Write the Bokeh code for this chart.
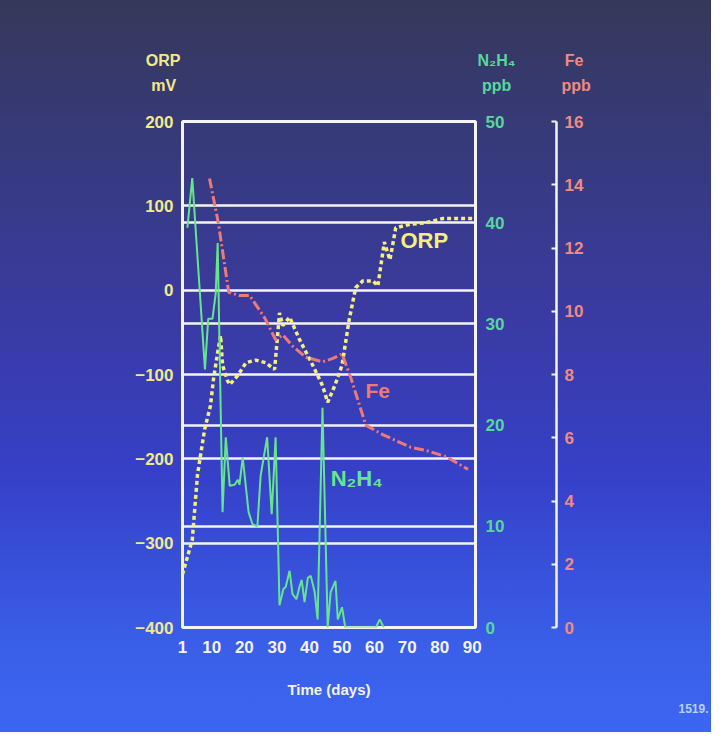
from bokeh.plotting import figure
from bokeh.layouts import column
from bokeh.models import Range1d, LinearAxis, FixedTicker, Grid, Label, Title
from bokeh.embed import file_html
from bokeh.resources import INLINE

# ---------------- data ----------------
orp_days = [1, 4, 5.6, 7.8, 9.6, 10.5, 11.8, 12.7, 13.3, 14.8, 15.5, 18, 20.5, 23.5,
            26.5, 29.3, 30.8, 31.8, 33.9, 37, 41, 44, 45.6, 47.8, 50, 52.2, 54.2,
            56.4, 59.5, 61, 63, 64.7, 65.3, 66.5, 70.8, 75.8, 81, 91]
orp_mv = [-337, -296, -219, -165, -137, -106, -74, -54, -89, -107, -112, -101, -86, -83,
          -86, -94, -27, -42, -32, -59, -89, -113, -133, -113, -89, -35, 3,
          11, 11, 5, 57, 36, 48, 74, 78, 80, 85, 85]

fe_days = [9.3, 12, 15.2, 18.5, 21.6, 26.2, 29.6, 31.8, 34.8, 38.8, 44, 47, 50,
           52.7, 57.3, 62.5, 71, 75.8, 82, 88.7]
fe_ppb = [14.2, 12.8, 10.6, 10.5, 10.5, 9.8, 9.1, 9.25, 8.9, 8.55, 8.4, 8.5, 8.65,
          7.9, 6.4, 6.1, 5.7, 5.6, 5.4, 5.0]

n2h4_days = [2.5, 4, 7.9, 8.9, 10.2, 11.2, 11.8, 13.3, 14.3, 15.5, 17, 18, 18.5, 19.5,
             21.3, 22.5, 24, 25, 27, 28.4, 29.6, 30.8, 32, 32.7, 33.9, 34.8, 36, 37,
             37.6, 38.5, 39.5, 40.4, 41.6, 42.5, 44, 45.6, 46.5, 48, 48.7, 50, 51,
             60.4, 61.6, 62.8]
n2h4_ppb = [39.5, 44.4, 25.5, 30.5, 30.5, 33, 38, 11.4, 18.8, 14, 14.1, 14.6, 14.1, 16.8,
            11.4, 10.2, 10, 15, 18.8, 11.2, 18.8, 2.2, 3.8, 4, 5.6, 3.3, 2.8, 4.1,
            4.7, 2.5, 4.9, 5.1, 3.5, 0.8, 21.7, 0, 3.5, 4.6, 0.8, 2, 0,
            0, 0.8, 0]

x_ticks = [1, 10, 20, 30, 40, 50, 60, 70, 80, 90]
orp_ticks = [-400, -300, -200, -100, 0, 100, 200]
n2h4_ticks = [0, 10, 20, 30, 40, 50]
fe_ticks = [0, 2, 4, 6, 8, 10, 12, 14, 16]

# axis titles (non-breaking / thin spaces only centre the short lines)
orp_title = "ORP\nmV\u00a0"
n2h4_title = "N\u2082H\u2084\n\u00a0ppb"
fe_title = "\u2009Fe\nppb"
x_title = "Time (days)"

# ---------------- styling ----------------
FONT = "'Liberation Sans', Arial, sans-serif"
YELLOW = "#f2e98a"
YELLOW_LINE = "#f5ef7e"
GREEN = "#56d89c"
GREEN_LINE = "#66e68c"
SALMON = "#f08a82"
SALMON_LINE = "#ee7a76"
WHITE = "#f4f4f4"
TICK_SIZE = "17px"


def title_axis(fig, text, color, standoff, side):
    ax = LinearAxis(ticker=FixedTicker(ticks=[]), axis_label=text,
                    axis_label_orientation="horizontal")
    ax.axis_line_color = None
    ax.major_tick_line_color = None
    ax.minor_tick_line_color = None
    ax.major_tick_in = 0
    ax.major_tick_out = 0
    ax.major_label_standoff = 0
    ax.axis_label_standoff = standoff
    ax.axis_label_text_color = color
    ax.axis_label_text_font = FONT
    ax.axis_label_text_font_style = "bold"
    ax.axis_label_text_font_size = "16px"
    ax.axis_label_text_line_height = 1.45
    fig.add_layout(ax, side)


# ---------------- header strip (axis titles) ----------------
head = figure(width=711, height=101, output_backend="svg", toolbar_location=None,
              x_range=Range1d(0, 1), y_range=Range1d(0, 1),
              x_axis_location=None, y_axis_location=None,
              min_border_left=182, min_border_right=236, min_border_top=44,
              min_border_bottom=0)
head.border_fill_color = None
head.background_fill_color = None
head.outline_line_color = None
head.grid.grid_line_color = None
title_axis(head, orp_title, YELLOW, 2, "left")
title_axis(head, n2h4_title, GREEN, 2, "right")
title_axis(head, fe_title, SALMON, 43, "right")

# ---------------- main chart ----------------
p = figure(width=711, height=631, output_backend="svg", toolbar_location=None,
           x_range=Range1d(1, 91), y_range=Range1d(-400, 200),
           min_border_left=182, min_border_right=236,
           min_border_top=20, min_border_bottom=105)
p.border_fill_color = None
p.background_fill_color = None
p.outline_line_color = WHITE
p.outline_line_width = 3

p.extra_y_ranges = {"n2h4": Range1d(0, 50), "fe": Range1d(0, 16)}

# x axis
xa = p.xaxis[0]
xa.ticker = FixedTicker(ticks=x_ticks)
xa.axis_line_color = None
xa.major_tick_line_color = None
xa.minor_tick_line_color = None
xa.major_label_text_color = WHITE
xa.major_label_text_font = FONT
xa.major_label_text_font_style = "bold"
xa.major_label_text_font_size = TICK_SIZE
xa.major_label_standoff = 7
xa.axis_label = x_title
xa.axis_label_text_color = WHITE
xa.axis_label_text_font = FONT
xa.axis_label_text_font_style = "bold"
xa.axis_label_text_font_size = "15px"
xa.axis_label_standoff = 25

# left ORP axis
ya = p.yaxis[0]
ya.ticker = FixedTicker(ticks=orp_ticks)
ya.axis_line_color = None
ya.major_tick_line_color = None
ya.minor_tick_line_color = None
ya.major_label_text_color = YELLOW
ya.major_label_text_font = FONT
ya.major_label_text_font_style = "bold"
ya.major_label_text_font_size = TICK_SIZE
ya.major_label_standoff = 3

# N2H4 axis
na = LinearAxis(y_range_name="n2h4", ticker=FixedTicker(ticks=n2h4_ticks))
na.axis_line_color = None
na.major_tick_line_color = None
na.minor_tick_line_color = None
na.major_label_text_color = GREEN
na.major_label_text_font = FONT
na.major_label_text_font_style = "bold"
na.major_label_text_font_size = TICK_SIZE
na.major_label_standoff = 4
na.axis_label = " "
na.axis_label_text_font_size = "10px"
na.axis_label_standoff = 35
p.add_layout(na, "right")

# Fe axis
fa = LinearAxis(y_range_name="fe", ticker=FixedTicker(ticks=fe_ticks))
fa.axis_line_color = WHITE
fa.axis_line_width = 2.5
fa.major_tick_line_color = WHITE
fa.major_tick_line_width = 2
fa.major_tick_in = 5
fa.major_tick_out = 0
fa.minor_tick_line_color = None
fa.major_label_text_color = SALMON
fa.major_label_text_font = FONT
fa.major_label_text_font_style = "bold"
fa.major_label_text_font_size = TICK_SIZE
fa.major_label_standoff = 8
p.add_layout(fa, "right")

# grids
p.xgrid.grid_line_color = None
p.ygrid.ticker = FixedTicker(ticks=[-300, -200, -100, 0, 100])
p.ygrid.grid_line_color = WHITE
p.ygrid.grid_line_width = 2.5
n_grid = Grid(dimension=1, y_range_name="n2h4", ticker=FixedTicker(ticks=[10, 20, 30, 40]),
              grid_line_color=WHITE, grid_line_width=2.5)
p.add_layout(n_grid)

# series
p.line(orp_days, orp_mv, color=YELLOW_LINE, line_width=3.5, line_dash="4 3")
p.line(fe_days, fe_ppb, y_range_name="fe", color=SALMON_LINE, line_width=3,
       line_dash="10 3 2 3")
p.line(n2h4_days, n2h4_ppb, y_range_name="n2h4", color=GREEN_LINE, line_width=2)

# in-plot series labels
def lab(x, y, text, color, size, rng="default"):
    p.add_layout(Label(x=x, y=y, text=text, y_range_name=rng, text_color=color,
                       text_font=FONT, text_font_size=size, text_font_style="bold",
                       text_align="left", text_baseline="middle"))

lab(67.96, 58.9, "ORP", YELLOW_LINE, "22px")
lab(57.2, 7.49, "Fe", SALMON_LINE, "21px", rng="fe")
lab(46.5, 14.7, "N\u2082H\u2084", GREEN_LINE, "22px", rng="n2h4")

# slide number
p.add_layout(Title(text="1519.", align="left", offset=496, text_font_size="12px",
                   text_color="#b4d2ff", text_font=FONT, text_font_style="bold",
                   standoff=2), "below")

layout = column(head, p, spacing=0,
                styles={"background": "linear-gradient(to bottom, #36385a 0%, #363a78 18%, "
                                      "#3a3aa0 42%, #3640c8 65%, #3a5ee8 88%, #3c66f2 100%)"})

open("out.html", "w").write(file_html(layout, INLINE))
